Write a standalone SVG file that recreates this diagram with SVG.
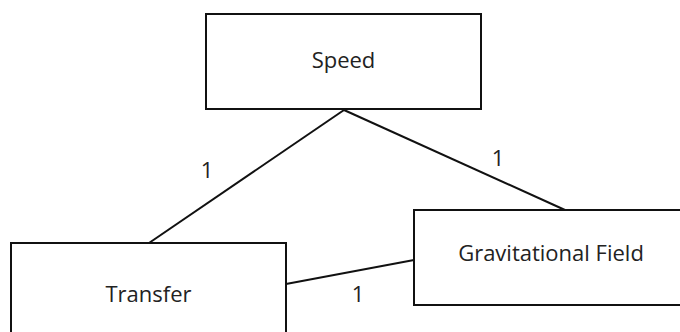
<svg xmlns="http://www.w3.org/2000/svg" width="680" height="332" viewBox="0 0 680 332">
<style>
.box{fill:#fff;stroke:#111;stroke-width:2}
.lbl{font-family:"Open Sans","Noto Sans",sans-serif;font-size:22px;fill:#222;text-anchor:middle}
.edge{stroke:#111;stroke-width:2;fill:none}
</style>
<rect width="680" height="332" fill="#fff"/>
<g id="connectors">
<line class="edge" x1="344" y1="110" x2="149" y2="243"/>
<line class="edge" x1="344" y1="110" x2="565" y2="210"/>
<line class="edge" x1="286" y1="284" x2="414" y2="260"/>
<text class="lbl" x="207" y="178">1</text>
<text class="lbl" x="498" y="166">1</text>
<text class="lbl" x="358" y="302">1</text>
</g>
<g id="speed">
<rect class="box" x="206" y="14" width="275" height="95"/>
<text class="lbl" x="343.5" y="68">Speed</text>
</g>
<g id="transfer">
<rect class="box" x="11" y="243" width="275" height="95"/>
<text class="lbl" x="148.5" y="302">Transfer</text>
</g>
<g id="gravitational-field">
<rect class="box" x="414" y="210" width="274" height="95"/>
<text class="lbl" x="551" y="261">Gravitational Field</text>
</g>
</svg>
